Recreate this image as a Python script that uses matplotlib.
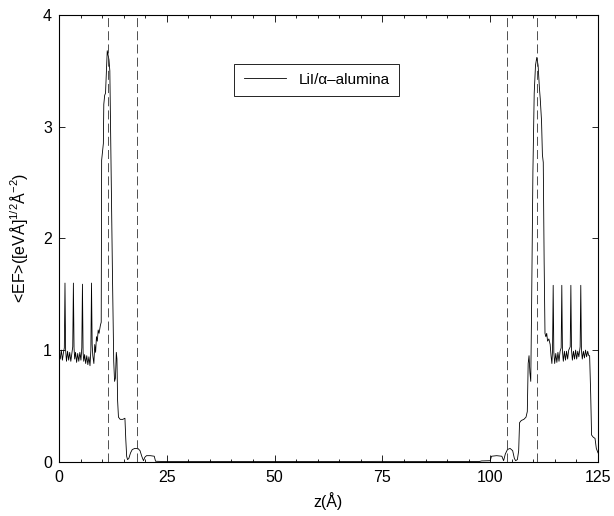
import numpy as np
import matplotlib
matplotlib.use('Agg')
import matplotlib.pyplot as plt
from matplotlib.ticker import MultipleLocator

plt.rcParams['figure.figsize'  ] = (6.14,5.16)
plt.rcParams['figure.dpi'      ] = 100
plt.rcParams['font.size'       ] = 11.5
plt.rcParams['font.family'     ] = ['Liberation Sans', 'DejaVu Sans']
plt.rcParams['mathtext.fontset'] = 'custom'
plt.rcParams['mathtext.rm'     ] = 'Liberation Sans'
plt.rcParams['mathtext.it'     ] = 'Liberation Sans:italic'
plt.rcParams['mathtext.sf'     ] = 'Liberation Sans'
plt.rcParams['xtick.direction' ] = 'in'
plt.rcParams['ytick.direction' ] = 'in'
plt.rcParams['xtick.top'       ] = True
plt.rcParams['ytick.right'     ] = True
plt.rcParams['xtick.major.size'] = 5
plt.rcParams['xtick.minor.size'] = 2.2
plt.rcParams['ytick.major.size'] = 4.5
plt.rcParams['xtick.major.width'] = 0.6
plt.rcParams['xtick.minor.width'] = 0.6
plt.rcParams['ytick.major.width'] = 0.6
plt.rcParams['xtick.major.pad' ] = 6
plt.rcParams['ytick.major.pad' ] = 5
plt.rcParams['axes.linewidth'  ] = 0.8
plt.rcParams['lines.scale_dashes'] = False

# <EF> profile across the slab, z in Angstrom
z = [0.0, 0.3, 0.55, 0.8, 1.05, 1.25, 1.4, 1.55, 1.75, 2.0, 2.25, 2.5, 2.75, 3.0,
     3.2, 3.35, 3.5, 3.65, 3.85, 4.1, 4.35, 4.6, 4.85, 5.1, 5.3, 5.45, 5.6, 5.75,
     5.95, 6.2, 6.45, 6.7, 6.95, 7.2, 7.4, 7.55, 7.7, 7.85, 8.1, 8.3, 8.5, 8.7,
     8.9, 9.1, 9.3, 9.6, 9.8, 9.9, 10.1, 10.3, 10.4, 10.6, 10.8, 11.0, 11.2, 11.4,
     11.6, 11.8, 12.1, 12.4, 12.7, 12.9, 13.1, 13.3, 13.45, 13.6, 13.8, 14.2, 14.8,
     15.3, 15.5, 15.7, 15.9, 16.2, 16.6, 17.0, 17.6, 18.3, 18.8, 19.2, 19.6, 19.9,
     20.3, 21.2, 22.1, 22.4, 25.0, 35.0, 50.0, 60.0, 75.0, 76.0, 85.0, 97.5, 98.0,
     100.0, 100.3, 101.5, 102.7, 103.1, 103.5, 104.0, 104.6, 105.2, 105.6, 105.9,
     106.3, 106.6, 106.8, 107.2, 107.8, 108.3, 108.6, 108.8, 109.0, 109.2, 109.4,
     109.6, 109.9, 110.2, 110.5, 110.8, 111.1, 111.4, 111.6, 111.9, 112.1, 112.3,
     112.5, 112.7, 112.9, 113.1, 113.3, 113.6, 113.9, 114.1, 114.3, 114.45, 114.6,
     114.75, 114.95, 115.2, 115.45, 115.7, 115.95, 116.2, 116.45, 116.6, 116.75,
     116.95, 117.2, 117.45, 117.7, 117.95, 118.2, 118.55, 118.7, 118.85, 119.05,
     119.3, 119.55, 119.8, 120.05, 120.3, 120.55, 120.85, 121.0, 121.15, 121.35,
     121.6, 121.85, 122.1, 122.35, 122.6, 122.85, 123.05, 123.3, 123.5, 123.9,
     124.3, 124.6, 125.0]
ef = [0.97, 0.92, 1.00, 0.91, 0.98, 1.02, 1.60, 1.00, 0.90, 0.99, 0.91, 0.98, 0.90, 0.97,
      1.03, 1.60, 1.02, 0.92, 0.98, 0.89, 0.97, 0.90, 0.98, 0.91, 1.02, 1.59, 0.98, 0.90,
      0.96, 0.88, 0.95, 0.87, 0.94, 0.86, 1.00, 1.60, 1.05, 0.95, 0.88, 1.05, 0.98, 1.12,
      1.08, 1.18, 1.15, 1.22, 1.25, 2.70, 2.78, 2.85, 3.20, 3.28, 3.30, 3.50, 3.68, 3.64,
      3.60, 3.50, 2.60, 1.70, 0.90, 0.72, 0.75, 0.98, 0.92, 0.55, 0.40, 0.38, 0.38,
      0.39, 0.20, 0.05, 0.02, 0.03, 0.08, 0.11, 0.12, 0.12, 0.10, 0.05, 0.01, 0.04,
      0.055, 0.055, 0.05, 0.005, 0.002, 0.002, 0.003, 0.002, 0.004, 0.002, 0.002, 0.003, 0.008,
      0.01, 0.05, 0.055, 0.05, 0.01, 0.07, 0.11, 0.12, 0.10, 0.03, 0.01,
      0.02, 0.10, 0.35, 0.37, 0.38, 0.40, 0.45, 0.88, 0.95, 0.80, 0.72,
      1.40, 2.60, 3.30, 3.55, 3.62, 3.55, 3.35, 3.25, 3.05, 2.75, 2.68,
      1.80, 1.15, 1.12, 1.15, 1.08, 1.10, 1.05, 0.95, 0.88, 1.00, 1.58,
      0.98, 0.88, 0.97, 0.89, 0.98, 0.90, 0.99, 1.02, 1.58, 0.99,
      0.90, 0.99, 0.91, 0.99, 0.92, 1.00, 1.03, 1.58, 1.00, 0.91,
      0.99, 0.92, 1.00, 0.92, 0.99, 0.94, 1.03, 1.58, 1.00, 0.92,
      0.99, 0.93, 1.00, 0.94, 0.99, 0.95, 0.95, 0.60, 0.24, 0.22,
      0.21, 0.12, 0.08]

# interface positions (dashed)
z_interface = [11.4, 18.1, 103.9, 110.8]

fig, ax = plt.subplots(nrows=1, ncols=1)

ax.plot(z, ef, color='black', lw=0.6, label='LiI/α–alumina')
for zi in z_interface:
    ax.axvline(zi, color='#333333', lw=0.6, dashes=(6.5, 3.0))

ax.set_xlabel('z(Å)', labelpad=5)
ax.set_ylabel(r'<EF>([eVÅ]$^{1/2}$Å$^{-2}$)', labelpad=9)
ax.set_xlim(0,125)
ax.set_xticks(np.arange(0,126,25))
ax.xaxis.set_minor_locator(MultipleLocator(5))
ax.set_ylim(0,4)
ax.set_yticks(np.arange(0,5,1))

leg = ax.legend(loc='center', bbox_to_anchor=(0.478,0.855), fancybox=False,
                framealpha=1, edgecolor='black', handlelength=2.8,
                borderpad=0.6, fontsize=11)
leg.get_frame().set_linewidth(0.6)

fig.subplots_adjust(left=0.096, right=0.974, bottom=0.105, top=0.971)

plt.savefig('out.png', dpi=100)
